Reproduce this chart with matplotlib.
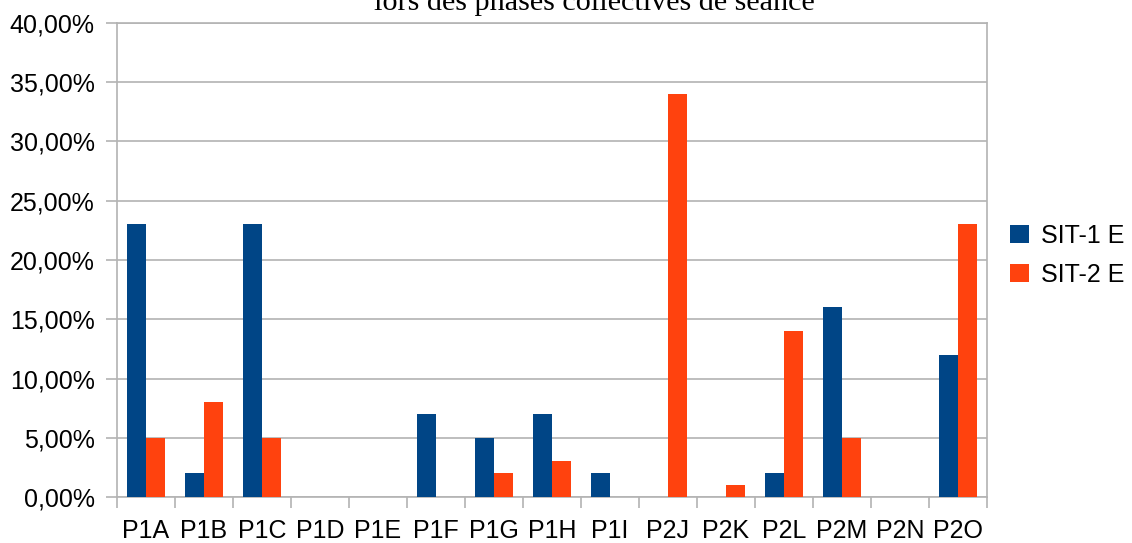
import matplotlib
matplotlib.use("Agg")
import matplotlib.pyplot as plt
import numpy as np

categories = ["P1A", "P1B", "P1C", "P1D", "P1E", "P1F", "P1G", "P1H", "P1I",
              "P2J", "P2K", "P2L", "P2M", "P2N", "P2O"]
sit1 = [23, 2, 23, 0, 0, 7, 5, 7, 2, 0, 0, 2, 16, 0, 12]
sit2 = [5, 8, 5, 0, 0, 0, 2, 3, 0, 34, 1, 14, 5, 0, 23]
yticks = [0, 5, 10, 15, 20, 25, 30, 35, 40]
ytick_labels = ["%d,00%%" % v for v in yticks]

plt.rcParams['font.family'] = ['Liberation Sans', 'DejaVu Sans']
grey = "#b3b3b3"

fig = plt.figure(figsize=(11.32, 5.43), dpi=100)
ax = fig.add_axes([117/1132, 46/543, 870/1132, 474/543])

x = np.arange(len(categories))
w = 0.336
ax.bar(x - w/2, sit1, w, color="#004586", label="SIT-1 E", zorder=3)
ax.bar(x + w/2, sit2, w, color="#ff420e", label="SIT-2 E", zorder=3)

ax.set_xlim(-0.5, len(categories) - 0.5)
ax.set_ylim(0, 40)
ax.set_yticks(yticks)
ax.set_yticklabels(ytick_labels, fontsize=18)
ax.set_xticks(x)
ax.set_xticklabels(categories, fontsize=18)
ax.set_xticks(np.arange(-0.5, len(categories)), minor=True)
ax.tick_params(axis="x", which="major", length=0, pad=16)
ax.tick_params(axis="x", which="minor", length=8, color=grey, width=1.2, direction="out")
ax.tick_params(axis="y", length=8, color=grey, width=1.2, pad=8)
ax.yaxis.grid(True, color=grey, linewidth=1.2, zorder=0)
for s in ax.spines.values():
    s.set_color(grey)
    s.set_linewidth(1.2)

ax.legend(loc="center left", bbox_to_anchor=(1.012, 0.51), frameon=False, fontsize=18,
          handlelength=0.76, handleheight=0.76, handletextpad=0.48, labelspacing=0.6,
          borderpad=0)

# title line is cut by the top edge in the original too
fig.text(594/1132, 1 - 10/543, "lors des phases collectives de séance", ha="center",
         va="baseline", fontsize=21.7, family=["Liberation Serif", "DejaVu Serif"])

fig.savefig("out.png", dpi=100)
